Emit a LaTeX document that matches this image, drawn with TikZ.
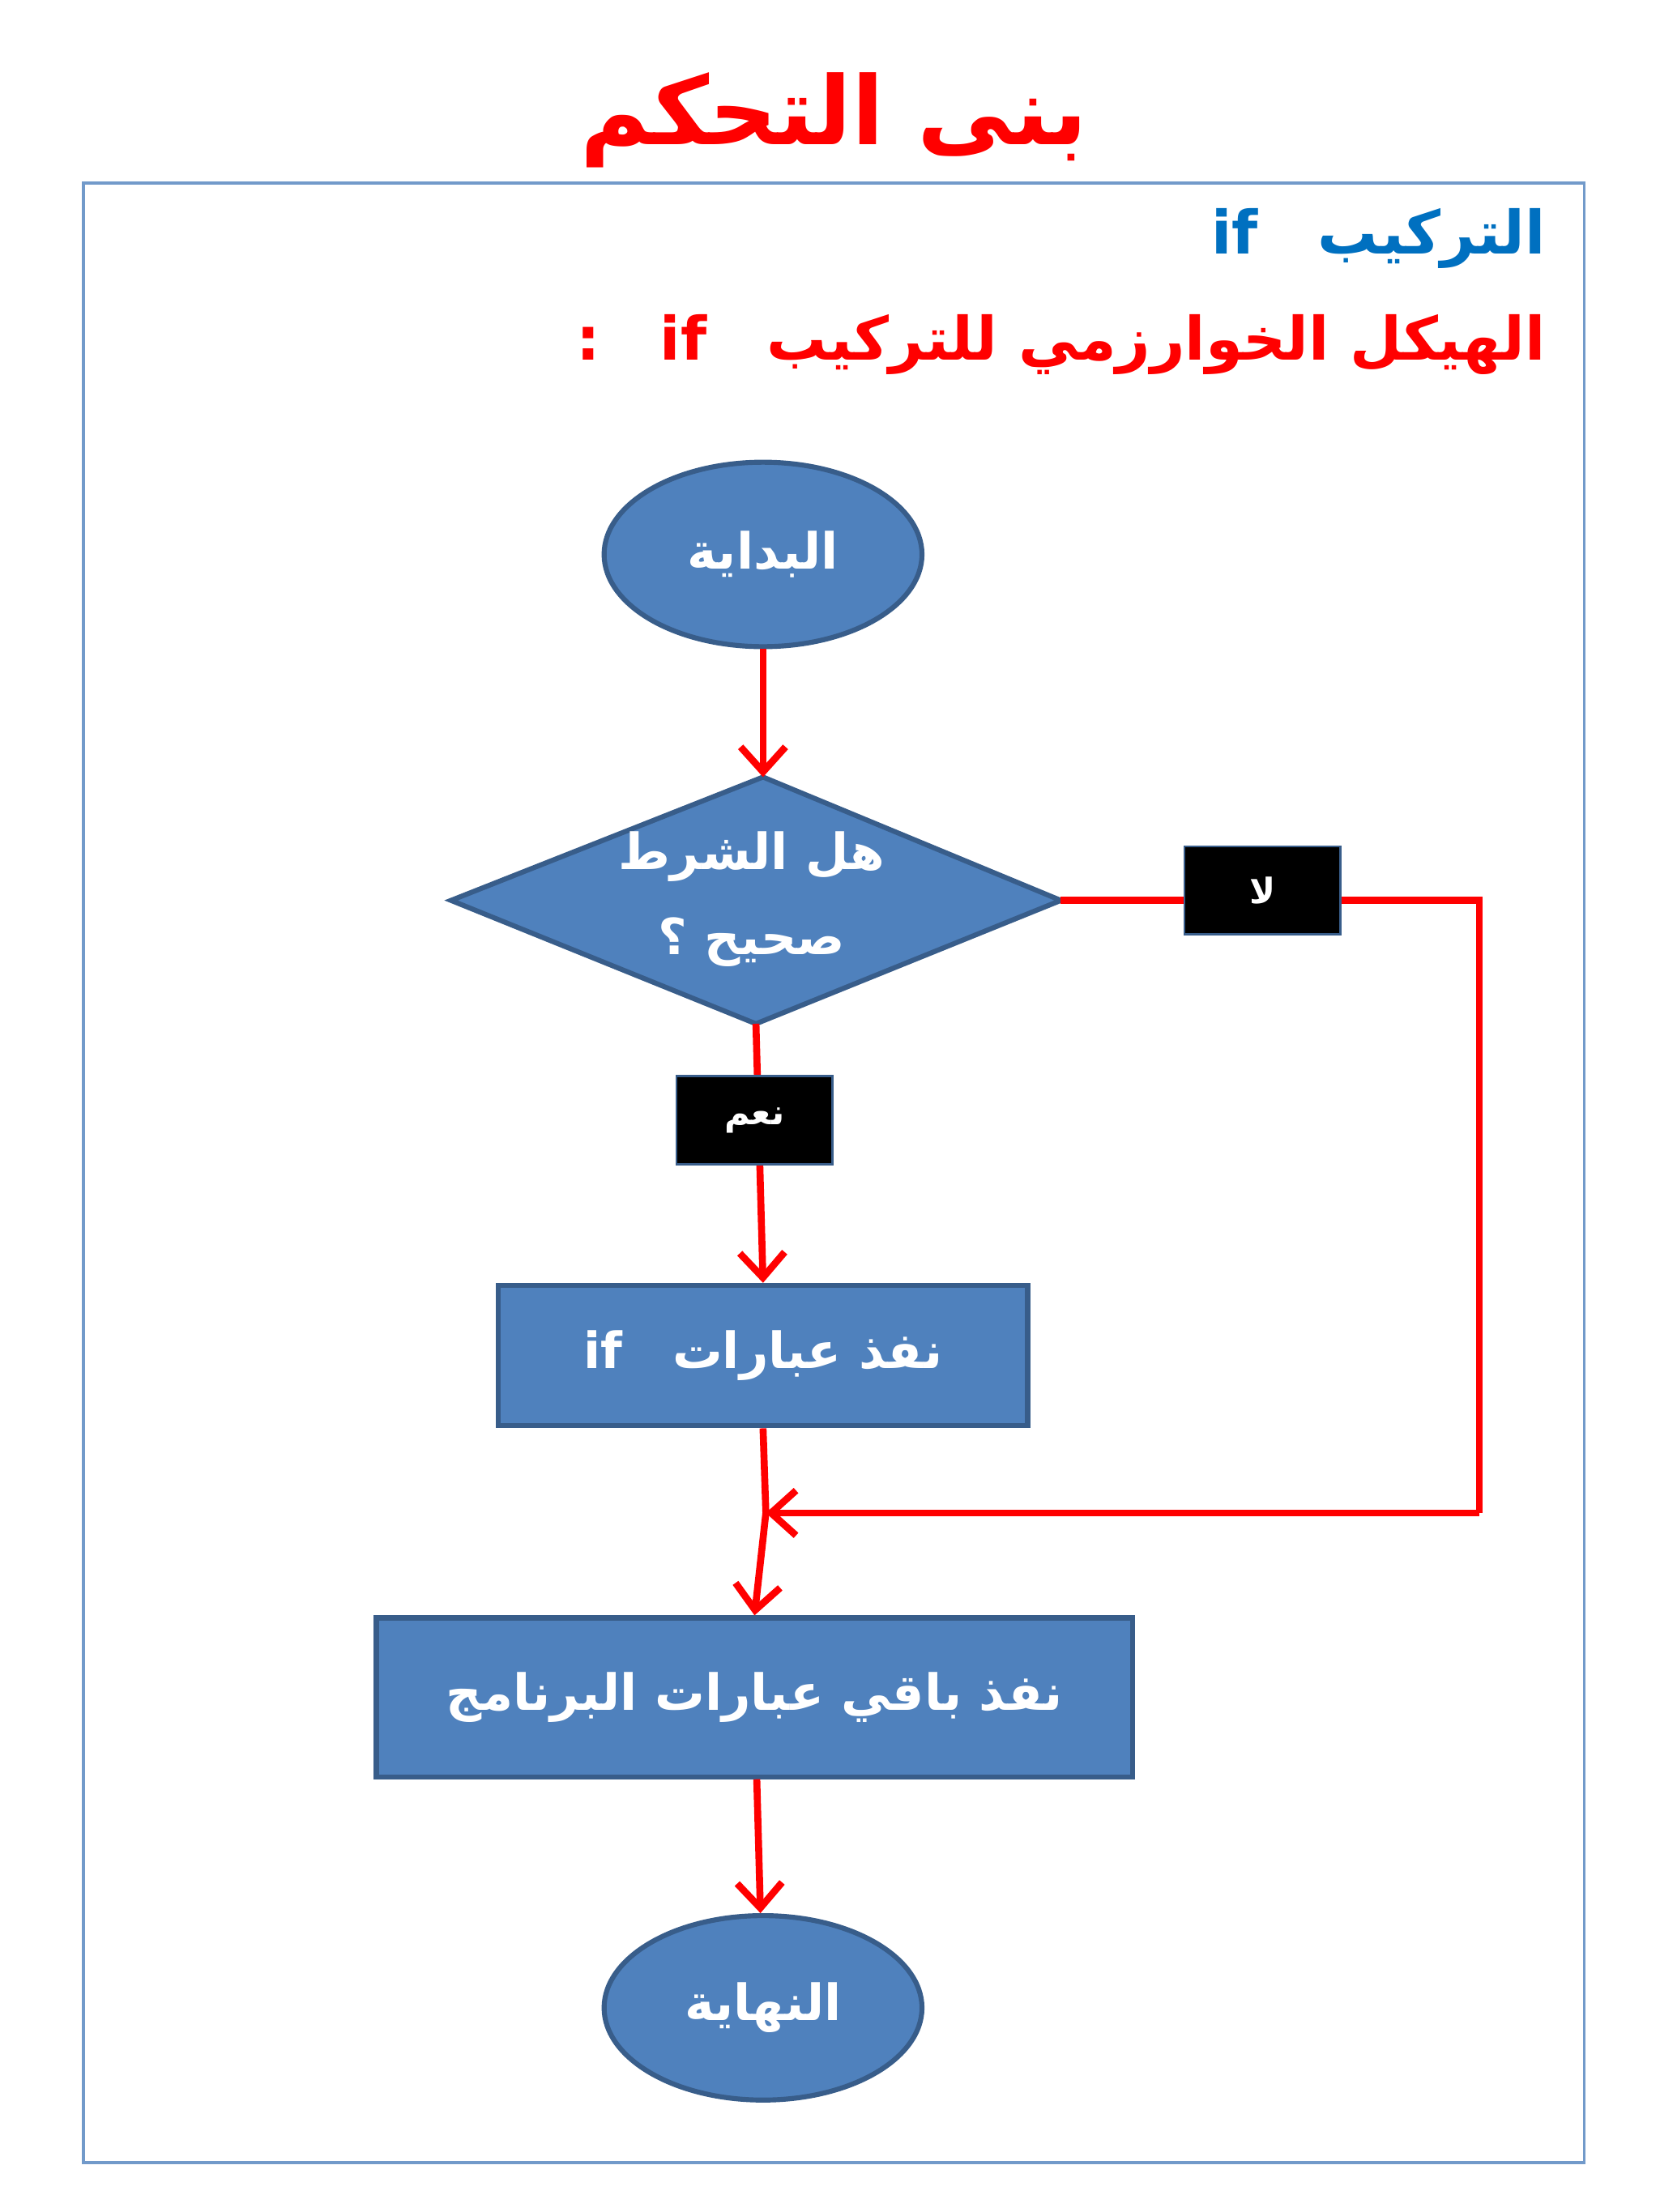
\documentclass[tikz,border=0pt]{standalone}
\usepackage{fontspec}
\usetikzlibrary{shapes.geometric,arrows.meta}
\newfontfamily\arabicfont[Script=Arabic]{DejaVu Sans}
\TeXXeTstate=1
\definecolor{bfill}{HTML}{4F81BD}
\definecolor{bdraw}{HTML}{385D8A}
\definecolor{tblue}{HTML}{0070C0}
\tikzset{
  flow/.style={draw=bdraw,fill=bfill,line width=1pt,text=white,font=\arabicfont\bfseries\fontsize{10}{13}\selectfont},
  term/.style={flow,ellipse,minimum width=2.24cm,minimum height=1.3cm,inner sep=0pt},
  proc/.style={flow,rectangle,inner sep=0pt},
  lab/.style={draw=bdraw,fill=black,text=white,minimum width=1.1cm,minimum height=0.62cm,inner sep=0pt,font=\arabicfont\bfseries\fontsize{7}{8}\selectfont},
  conn/.style={draw=red,line width=1.4pt},
  arr/.style={conn,-{Straight Barb[length=5pt,width=9pt,line width=1.4pt]}}
}
\begin{document}
\begin{tikzpicture}[x=0.01cm,y=-0.01cm]
\useasboundingbox (0,0) rectangle (1170,1560);
\fill[white] (0,0) rectangle (1170,1560);
\draw[draw=bfill!80,line width=0.6pt] (59,129) rectangle (1117,1525);
\node[text=red,font=\arabicfont\bfseries\fontsize{19}{22}\selectfont] (title) at (588,85) {\beginR بنى التحكم\endR};
\node[anchor=east,text=tblue,font=\arabicfont\bfseries\fontsize{12}{14}\selectfont] (h1) at (1102,168) {\beginR التركيب\quad\beginL if\endL{}\endR};
\node[anchor=east,text=red,font=\arabicfont\bfseries\fontsize{12}{14}\selectfont] (h2) at (1102,243) {\beginR الهيكل الخوارزمي للتركيب\quad\beginL if\endL{}\quad :\endR};
\node[term] (s) at (538,391) {\beginR البداية\endR};
\coordinate (dT) at (538,548);
\coordinate (dL) at (318,635);
\coordinate (dR) at (748,635);
\coordinate (dB) at (533,722);
\fill[bfill,draw=bdraw,line width=1pt] (dT) -- (dR) -- (dB) -- (dL) -- cycle;
\node[text=white,font=\arabicfont\bfseries\fontsize{10}{13}\selectfont,align=center] (d) at (530,634) {\beginR هل الشرط\endR\\[4pt]\beginR صحيح ؟\endR};
\node[proc,minimum width=3.73cm,minimum height=0.99cm] (p1) at (538,956) {\beginR نفذ عبارات\quad\beginL if\endL{}\endR};
\node[proc,minimum width=5.33cm,minimum height=1.12cm] (p2) at (532,1197) {\beginR نفذ باقي عبارات البرنامج\endR};
\node[term] (e) at (538,1416) {\beginR النهاية\endR};
\coordinate (c1) at (1043,1067);
\coordinate (j) at (540,1067);
\draw[arr] (s) -- (dT);
\draw[arr] (dB) -- (p1.north);
\draw[conn] (dR) -| (c1);
\draw[arr] (c1) -- (j);
\draw[conn] (p1.south) -- (j);
\draw[arr] (j) -- (p2.north);
\draw[arr] (p2) -- (e);
\node[lab] (no) at (890,628) {\beginR لا\endR};
\node[lab] (yes) at (532,790) {\beginR نعم\endR};
\end{tikzpicture}
\end{document}
